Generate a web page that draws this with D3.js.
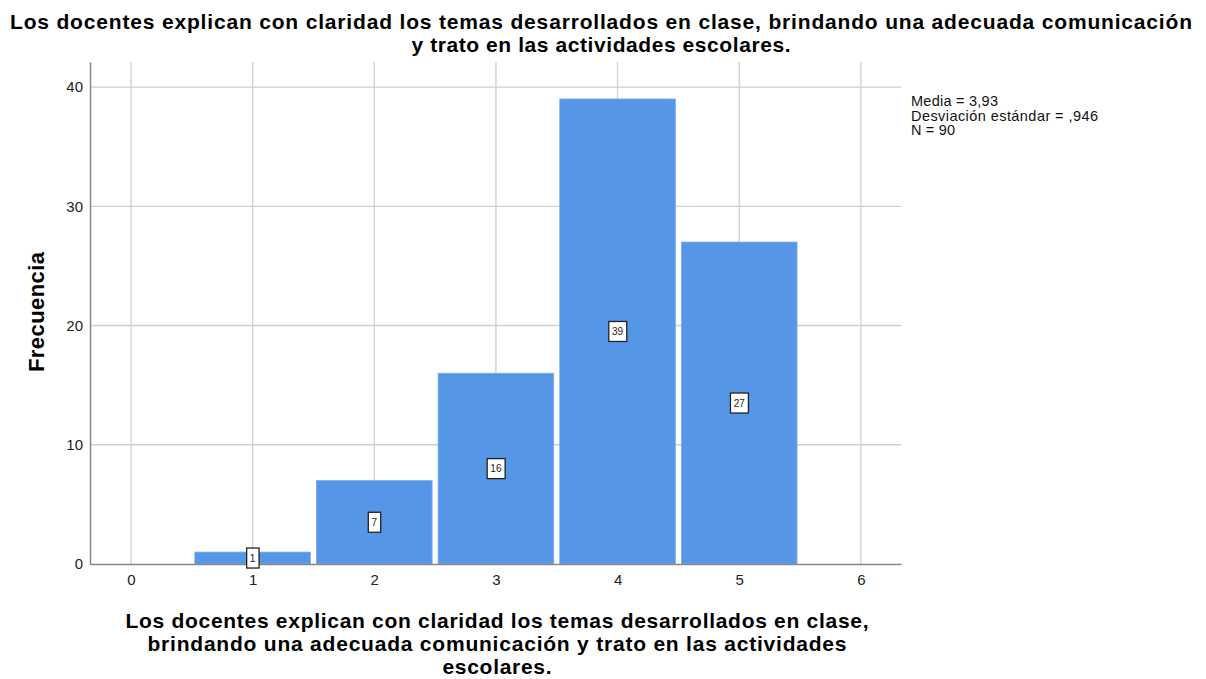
<!DOCTYPE html>
<html><head><meta charset="utf-8">
<script src="https://cdn.jsdelivr.net/npm/d3@7"></script>
<style>body{margin:0;background:#fff;} svg{display:block;font-family:"Liberation Sans",Arial,sans-serif;}</style>
</head><body><svg id="c" width="1206" height="679"></svg>
<script>
const categories = [1, 2, 3, 4, 5];
const frequencies = [1, 7, 16, 39, 27];
const xTicks = [0, 1, 2, 3, 4, 5, 6];
const yTicks = [0, 10, 20, 30, 40];
const titleLines = ["Los docentes explican con claridad los temas desarrollados en clase, brindando una adecuada comunicación", "y trato en las actividades escolares."];
const xTitleLines = ["Los docentes explican con claridad los temas desarrollados en clase,", "brindando una adecuada comunicación y trato en las actividades", "escolares."];
const statsLines = ["Media = 3,93", "Desviación estándar = ,946", "N = 90"];

// layout (widths of rendered text lines in the reference)
const titleWidths = [1182, 379];
const xTitleWidths = [743, 699, 109];
const statsWidths = [87, 187, 44];

const svg = d3.select("#c");
const pLeft = 90, pRight = 901, pTop = 62, pBottom = 564;
const x = d3.scaleLinear().domain([-0.337, 6.33]).range([pLeft, pRight]);
const y = d3.scaleLinear().domain([0, 42.1]).range([pBottom, pTop]);

// grid
svg.append("g").selectAll("line").data(xTicks).join("line")
  .attr("x1", d => x(d)).attr("x2", d => x(d)).attr("y1", pTop).attr("y2", pBottom)
  .attr("stroke", "#cfcfcf").attr("stroke-width", 1.3);
svg.append("g").selectAll("line").data(yTicks.filter(d => d > 0)).join("line")
  .attr("x1", pLeft).attr("x2", pRight).attr("y1", d => y(d)).attr("y2", d => y(d))
  .attr("stroke", "#cfcfcf").attr("stroke-width", 1.3);

// bars
const gap = 3;
svg.append("g").selectAll("rect").data(categories).join("rect")
  .attr("x", (d) => x(d - 0.5) + gap)
  .attr("width", d => x(d + 0.5) - x(d - 0.5) - 2 * gap)
  .attr("y", (d, i) => y(frequencies[i]))
  .attr("height", (d, i) => y(0) - y(frequencies[i]))
  .attr("fill", "#5596e6").attr("stroke", "#7aaeee").attr("stroke-width", 0.8);

// axes
const xAxis = d3.axisBottom(x).tickValues(xTicks).tickSize(0).tickPadding(10).tickFormat(d3.format("d"));
const gx = svg.append("g").attr("transform", `translate(0,${pBottom})`).call(xAxis);
gx.select(".domain").attr("stroke", "#888").attr("stroke-width", 1.5);
gx.selectAll("text").attr("font-size", 15).attr("fill", "#222").attr("font-family", "Liberation Sans, Arial, sans-serif");

const yAxis = d3.axisLeft(y).tickValues(yTicks).tickSize(0).tickPadding(7);
const gy = svg.append("g").attr("transform", `translate(${pLeft},0)`).call(yAxis);
gy.select(".domain").attr("stroke", "#888").attr("stroke-width", 1.5);
gy.selectAll("text").attr("font-size", 15).attr("fill", "#222").attr("font-family", "Liberation Sans, Arial, sans-serif");

// value labels
const lab = svg.append("g").selectAll("g").data(categories).join("g")
  .attr("transform", (d, i) => `translate(${x(d)},${y(frequencies[i] / 2)})`);
lab.append("text").text((d, i) => frequencies[i])
  .attr("text-anchor", "middle").attr("dy", "0.35em").attr("font-size", 10).attr("fill", "#222")
  .each(function() {
    const b = this.getBBox();
    d3.select(this.parentNode).insert("rect", "text")
      .attr("x", b.x - 3.2).attr("y", -10).attr("width", b.width + 6.4).attr("height", 20)
      .attr("fill", "#fff").attr("stroke", "#222").attr("stroke-width", 1.3);
  });

// title
svg.append("text").attr("text-anchor", "middle").attr("font-weight", "bold").attr("font-size", 21).attr("fill", "#000")
  .selectAll("tspan").data(titleLines).join("tspan")
  .attr("x", 601).attr("y", (d, i) => 29 + i * 23)
  .attr("textLength", (d, i) => titleWidths[i]).attr("lengthAdjust", "spacing").text(d => d);

// x title
svg.append("g").selectAll("text").data(xTitleLines).join("text")
  .attr("text-anchor", "middle").attr("font-weight", "bold").attr("font-size", 21).attr("fill", "#000")
  .attr("x", 497).attr("y", (d, i) => 628 + i * 23)
  .attr("textLength", (d, i) => xTitleWidths[i]).attr("lengthAdjust", "spacing").text(d => d);

// y title
svg.append("text").attr("transform", "translate(44,312) rotate(-90)").attr("text-anchor", "middle")
  .attr("font-weight", "bold").attr("font-size", 22).attr("fill", "#000")
  .attr("textLength", 120).attr("lengthAdjust", "spacing").text("Frecuencia");

// stats
svg.append("g").selectAll("text").data(statsLines).join("text")
  .attr("font-size", 14.5).attr("fill", "#111")
  .attr("x", 911).attr("y", (d, i) => 106 + i * 14.5)
  .attr("textLength", (d, i) => statsWidths[i]).attr("lengthAdjust", "spacing").text(d => d);
</script></body></html>
